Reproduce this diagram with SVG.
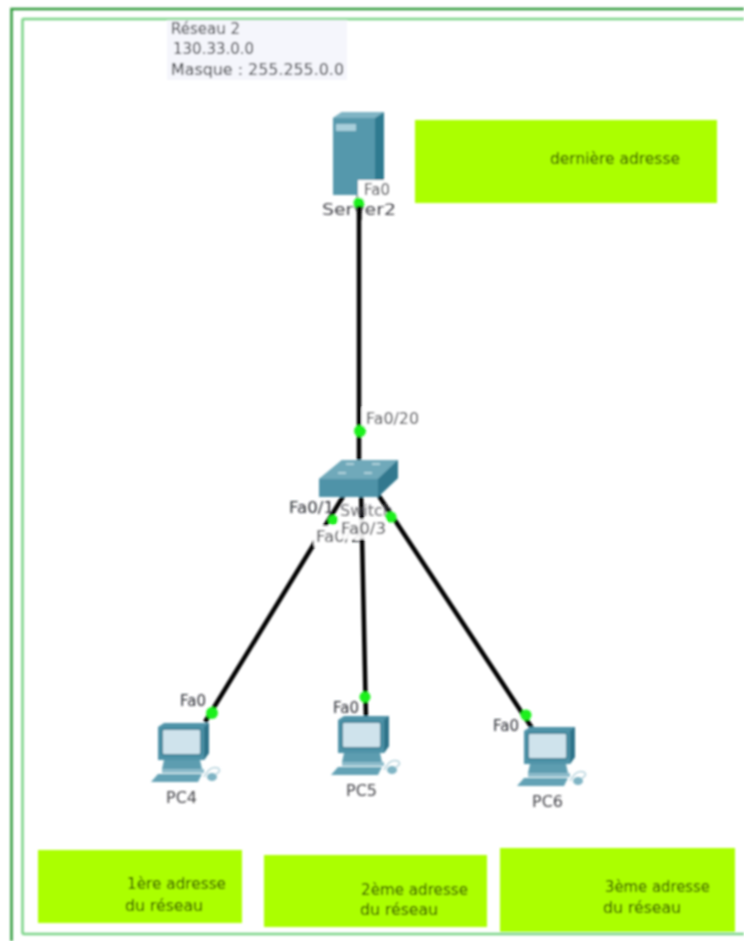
<svg xmlns="http://www.w3.org/2000/svg" width="744" height="941" viewBox="0 0 744 941">
<defs>
<filter id="b" x="-10%" y="-10%" width="120%" height="120%"><feGaussianBlur stdDeviation="0.85"/></filter>
<g id="pc">
<path d="M8 4 L14 0 L59 0 L59 30 L54 37 L8 37 Z" fill="#4f93a8"/>
<path d="M54 4 L59 0 L59 30 L54 37 Z" fill="#2f7389"/>
<rect x="12" y="6" width="39" height="26" rx="2" fill="#cfe3ec" stroke="#3d8398" stroke-width="2"/>
<path d="M14 37 H50 L52 46 H12 Z" fill="#5d9db0"/>
<path d="M12 46 H54 L54 50 H12 Z" fill="#8dbccb"/>
<path d="M8 51 H52 L48 59 H1 Z" fill="#64a2b5"/>
<path d="M54 54 q6 -12 14 -9 q4 3 -2 6" fill="none" stroke="#b5d2dc" stroke-width="1.500"/>
<ellipse cx="62" cy="54" rx="5" ry="4" fill="#7fb4c4"/>
</g>
</defs>
<style>
text{font-family:"DejaVu Sans",Verdana,sans-serif;font-size:15px;fill:#26272c}
.l{font-size:15px;fill:#2c2d34}
.n{font-size:16px;fill:#44444a}
.g{fill:#abff00}
.t{font-size:15px;fill:#1f3300}
.c{stroke:#050505;stroke-width:4.500;fill:none}
.d{fill:#1ef01e}
.w{fill:#fff}
</style>
<rect width="744" height="941" fill="#fff"/>
<g filter="url(#b)">
<g id="frame">
<path d="M744 9 H11.500 V941" fill="none" stroke="#2f9a3a" stroke-width="2.500"/>
<path d="M744 19 H23.500 Q22.500 19 22.500 20 V932 Q22.500 934 24 934 H744" fill="none" stroke="#7ad487" stroke-width="2.500"/>
</g>
<g id="network-label">
<rect x="167" y="20" width="180" height="60" fill="#f5f6fc"/>
<text x="171" y="34">Réseau 2</text>
<text x="173" y="54">130.33.0.0</text>
<text x="171" y="75" textLength="173" lengthAdjust="spacingAndGlyphs">Masque : 255.255.0.0</text>
</g>
<g id="note-last"><rect class="g" x="415" y="120" width="302" height="83"/><text class="t" x="550" y="164" textLength="130" lengthAdjust="spacingAndGlyphs">dernière adresse</text></g>
<g id="note-1"><rect class="g" x="38" y="850" width="204" height="73"/><text class="t" x="127" y="889" textLength="99" lengthAdjust="spacingAndGlyphs">1ère adresse</text><text class="t" x="125" y="911" textLength="78" lengthAdjust="spacingAndGlyphs">du réseau</text></g>
<g id="note-2"><rect class="g" x="264" y="855" width="223" height="72"/><text class="t" x="361" y="895" textLength="107" lengthAdjust="spacingAndGlyphs">2ème adresse</text><text class="t" x="360" y="915" textLength="78" lengthAdjust="spacingAndGlyphs">du réseau</text></g>
<g id="note-3"><rect class="g" x="500" y="848" width="235" height="84"/><text class="t" x="605" y="892" textLength="105" lengthAdjust="spacingAndGlyphs">3ème adresse</text><text class="t" x="603" y="913" textLength="78" lengthAdjust="spacingAndGlyphs">du réseau</text></g>
<g id="connectors">
<path class="c" d="M359 195 V480"/>
<path class="c" d="M347 490 L205 722"/>
<path class="c" d="M361 490 L366 720"/>
<path class="c" d="M375 490 L532 728"/>
</g>
<g id="Server2">
<path d="M333 118 L342 112 H384 V185 L377 195 H333 Z" fill="#5598ac"/>
<path d="M375 118 L384 112 V185 L375 195 Z" fill="#2e7a90"/>
<path d="M333 118 L342 112 H384 L375 118 Z" fill="#7fb4c4"/>
<rect x="336" y="124" width="20" height="7" fill="#a8cfdb"/>
<rect class="w" x="358" y="180" width="36" height="22"/>
<text class="l" x="364" y="195">Fa0</text>
<text class="n" x="322" y="215" textLength="74" lengthAdjust="spacingAndGlyphs">Server2</text>
<circle class="d" cx="359" cy="203" r="5.500"/>
<rect x="357" y="206" width="4.500" height="14" fill="#050505"/>
</g>
<g id="Switch">
<path d="M319 479 L342 460 H398 V478 L378 497 H319 Z" fill="#4f93a8"/>
<path d="M319 479 L342 460 H398 L378 479 Z" fill="#6fa9ba"/>
<path d="M378 479 L398 460 V478 L378 497 Z" fill="#33788e"/>
<path d="M346 464 h8 M372 464 h8 M338 473 h8 M364 473 h8" stroke="#c5e0e8" stroke-width="1.500"/>
<text class="n" x="340" y="516" opacity="0.8">Switch</text>
<rect class="w" x="314" y="526" width="36" height="20"/>
<text class="l" x="289" y="513" textLength="45" lengthAdjust="spacingAndGlyphs">Fa0/1</text>
<text class="l" x="316" y="542" textLength="45" lengthAdjust="spacingAndGlyphs">Fa0/2</text>
<rect class="w" x="338" y="519" width="48" height="20" opacity="0.9"/>
<text class="l" x="341" y="534" textLength="45" lengthAdjust="spacingAndGlyphs">Fa0/3</text>
<rect class="w" x="362" y="408" width="58" height="20"/>
<text class="l" x="366" y="424" textLength="53" lengthAdjust="spacingAndGlyphs">Fa0/20</text>
<circle class="d" cx="360" cy="431" r="6"/>
<circle class="d" cx="333" cy="520" r="5"/>
<circle class="d" cx="391" cy="517" r="5.500"/>
</g>
<g id="PC4"><use href="#pc" x="150" y="723"/><text class="l" x="180" y="706">Fa0</text><circle class="d" cx="212" cy="713" r="6"/><text class="n" x="166" y="803">PC4</text></g>
<g id="PC5"><use href="#pc" x="330" y="716"/><text class="l" x="333" y="713">Fa0</text><circle class="d" cx="365" cy="697" r="5.500"/><text class="n" x="346" y="796">PC5</text></g>
<g id="PC6"><use href="#pc" x="516" y="727"/><text class="l" x="493" y="731">Fa0</text><circle class="d" cx="526" cy="715" r="5.500"/><text class="n" x="532" y="807">PC6</text></g>
</g>
</svg>
